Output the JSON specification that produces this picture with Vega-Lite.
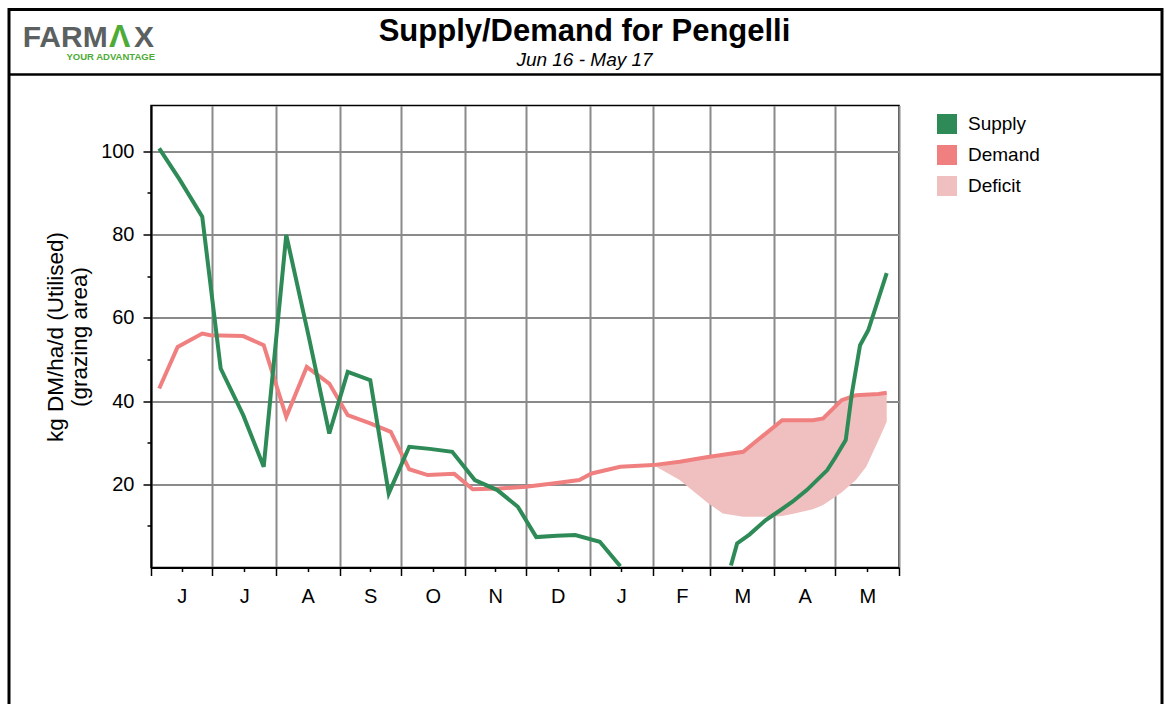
{
  "$schema": "https://vega.github.io/schema/vega-lite/v6.json",
  "width": 748,
  "height": 462,
  "autosize": {"type": "none"},
  "padding": {"left": 151, "top": 105.5, "right": 267, "bottom": 136.5},
  "background": "white",
  "config": {
    "font": "Liberation Sans",
    "view": {"stroke": "#000", "strokeWidth": 1.5},
    "legend": {"padding": 0}
  },
  "title": {
    "text": "Supply/Demand for Pengelli",
    "subtitle": "Jun 16 - May 17",
    "anchor": "middle",
    "frame": "group",
    "dx": 59.5,
    "offset": -62.5,
    "font": "Liberation Sans",
    "fontSize": 31,
    "fontWeight": "bold",
    "color": "#000",
    "subtitleFont": "Liberation Sans",
    "subtitleFontSize": 19,
    "subtitleFontStyle": "italic",
    "subtitleColor": "#000",
    "subtitlePadding": 3
  },
  "datasets": {
    "supply": [
      {"date": "2016-06-05", "kg": 100.7, "series": "Supply", "seg": 1},
      {"date": "2016-06-15", "kg": 93.2, "series": "Supply", "seg": 1},
      {"date": "2016-06-26", "kg": 84.3, "series": "Supply", "seg": 1},
      {"date": "2016-07-05", "kg": 47.8, "series": "Supply", "seg": 1},
      {"date": "2016-07-16", "kg": 36.6, "series": "Supply", "seg": 1},
      {"date": "2016-07-26", "kg": 24.2, "series": "Supply", "seg": 1},
      {"date": "2016-08-06", "kg": 79.9, "series": "Supply", "seg": 1},
      {"date": "2016-08-17", "kg": 55.4, "series": "Supply", "seg": 1},
      {"date": "2016-08-27", "kg": 32.2, "series": "Supply", "seg": 1},
      {"date": "2016-09-05", "kg": 47.0, "series": "Supply", "seg": 1},
      {"date": "2016-09-16", "kg": 45.0, "series": "Supply", "seg": 1},
      {"date": "2016-09-25", "kg": 17.8, "series": "Supply", "seg": 1},
      {"date": "2016-10-05", "kg": 29.0, "series": "Supply", "seg": 1},
      {"date": "2016-10-15", "kg": 28.5, "series": "Supply", "seg": 1},
      {"date": "2016-10-26", "kg": 27.8, "series": "Supply", "seg": 1},
      {"date": "2016-11-06", "kg": 21.0, "series": "Supply", "seg": 1},
      {"date": "2016-11-17", "kg": 18.6, "series": "Supply", "seg": 1},
      {"date": "2016-11-27", "kg": 14.6, "series": "Supply", "seg": 1},
      {"date": "2016-12-06", "kg": 7.3, "series": "Supply", "seg": 1},
      {"date": "2016-12-16", "kg": 7.6, "series": "Supply", "seg": 1},
      {"date": "2016-12-25", "kg": 7.8, "series": "Supply", "seg": 1},
      {"date": "2017-01-06", "kg": 6.2, "series": "Supply", "seg": 1},
      {"date": "2017-01-16", "kg": 0.3, "series": "Supply", "seg": 1},
      {"date": "2017-03-11", "kg": 0.5, "series": "Supply", "seg": 2},
      {"date": "2017-03-14", "kg": 5.8, "series": "Supply", "seg": 2},
      {"date": "2017-03-20", "kg": 7.9, "series": "Supply", "seg": 2},
      {"date": "2017-03-28", "kg": 11.4, "series": "Supply", "seg": 2},
      {"date": "2017-04-03", "kg": 13.4, "series": "Supply", "seg": 2},
      {"date": "2017-04-10", "kg": 15.8, "series": "Supply", "seg": 2},
      {"date": "2017-04-17", "kg": 18.6, "series": "Supply", "seg": 2},
      {"date": "2017-04-27", "kg": 23.4, "series": "Supply", "seg": 2},
      {"date": "2017-05-01", "kg": 26.5, "series": "Supply", "seg": 2},
      {"date": "2017-05-06", "kg": 30.6, "series": "Supply", "seg": 2},
      {"date": "2017-05-09", "kg": 41.8, "series": "Supply", "seg": 2},
      {"date": "2017-05-13", "kg": 53.4, "series": "Supply", "seg": 2},
      {"date": "2017-05-17", "kg": 57.0, "series": "Supply", "seg": 2},
      {"date": "2017-05-26", "kg": 70.7, "series": "Supply", "seg": 2}
    ],
    "demand": [
      {"date": "2016-06-05", "kg": 43.0, "series": "Demand"},
      {"date": "2016-06-14", "kg": 53.0, "series": "Demand"},
      {"date": "2016-06-26", "kg": 56.2, "series": "Demand"},
      {"date": "2016-06-30", "kg": 55.8, "series": "Demand"},
      {"date": "2016-07-16", "kg": 55.6, "series": "Demand"},
      {"date": "2016-07-26", "kg": 53.4, "series": "Demand"},
      {"date": "2016-08-06", "kg": 36.2, "series": "Demand"},
      {"date": "2016-08-16", "kg": 48.2, "series": "Demand"},
      {"date": "2016-08-27", "kg": 44.2, "series": "Demand"},
      {"date": "2016-09-05", "kg": 36.6, "series": "Demand"},
      {"date": "2016-09-16", "kg": 34.6, "series": "Demand"},
      {"date": "2016-09-26", "kg": 32.6, "series": "Demand"},
      {"date": "2016-10-05", "kg": 23.6, "series": "Demand"},
      {"date": "2016-10-14", "kg": 22.2, "series": "Demand"},
      {"date": "2016-10-27", "kg": 22.5, "series": "Demand"},
      {"date": "2016-11-05", "kg": 18.8, "series": "Demand"},
      {"date": "2016-11-18", "kg": 19.0, "series": "Demand"},
      {"date": "2016-12-01", "kg": 19.4, "series": "Demand"},
      {"date": "2016-12-14", "kg": 20.2, "series": "Demand"},
      {"date": "2016-12-27", "kg": 21.0, "series": "Demand"},
      {"date": "2017-01-02", "kg": 22.6, "series": "Demand"},
      {"date": "2017-01-16", "kg": 24.2, "series": "Demand"},
      {"date": "2017-02-01", "kg": 24.6, "series": "Demand"},
      {"date": "2017-02-14", "kg": 25.4, "series": "Demand"},
      {"date": "2017-02-27", "kg": 26.5, "series": "Demand"},
      {"date": "2017-03-17", "kg": 27.8, "series": "Demand"},
      {"date": "2017-03-23", "kg": 30.2, "series": "Demand"},
      {"date": "2017-04-05", "kg": 35.4, "series": "Demand"},
      {"date": "2017-04-20", "kg": 35.4, "series": "Demand"},
      {"date": "2017-04-25", "kg": 35.8, "series": "Demand"},
      {"date": "2017-05-04", "kg": 40.2, "series": "Demand"},
      {"date": "2017-05-11", "kg": 41.4, "series": "Demand"},
      {"date": "2017-05-22", "kg": 41.7, "series": "Demand"},
      {"date": "2017-05-26", "kg": 42.0, "series": "Demand"}
    ],
    "deficit": [
      {"date": "2017-02-01", "top": 24.6, "low": 24.6, "series": "Deficit"},
      {"date": "2017-02-14", "top": 25.4, "low": 21.0, "series": "Deficit"},
      {"date": "2017-02-28", "top": 26.6, "low": 15.4, "series": "Deficit"},
      {"date": "2017-03-07", "top": 27.1, "low": 13.0, "series": "Deficit"},
      {"date": "2017-03-17", "top": 27.8, "low": 12.2, "series": "Deficit"},
      {"date": "2017-03-23", "top": 30.2, "low": 12.2, "series": "Deficit"},
      {"date": "2017-03-31", "top": 33.3, "low": 12.2, "series": "Deficit"},
      {"date": "2017-04-05", "top": 35.4, "low": 12.4, "series": "Deficit"},
      {"date": "2017-04-11", "top": 35.4, "low": 13.0, "series": "Deficit"},
      {"date": "2017-04-20", "top": 35.4, "low": 14.0, "series": "Deficit"},
      {"date": "2017-04-25", "top": 35.8, "low": 15.0, "series": "Deficit"},
      {"date": "2017-05-04", "top": 40.2, "low": 18.0, "series": "Deficit"},
      {"date": "2017-05-11", "top": 41.4, "low": 21.0, "series": "Deficit"},
      {"date": "2017-05-16", "top": 41.5, "low": 24.2, "series": "Deficit"},
      {"date": "2017-05-22", "top": 41.7, "low": 30.6, "series": "Deficit"},
      {"date": "2017-05-26", "top": 42.0, "low": 35.0, "series": "Deficit"}
    ],
    "deco": [{"id": 1}]
  },
  "layer": [
    {
      "encoding": {
        "x": {
          "field": "date",
          "type": "temporal",
          "scale": {
            "type": "utc",
            "domain": [
              {"year": 2016, "month": 6, "date": 1, "utc": true},
              {"year": 2017, "month": 6, "date": 1, "utc": true}
            ]
          },
          "axis": {
            "title": null,
            "values": [
              {"year": 2016, "month": 6, "date": 1, "utc": true},
              {"year": 2016, "month": 6, "date": 16, "utc": true},
              {"year": 2016, "month": 7, "date": 1, "utc": true},
              {"year": 2016, "month": 7, "date": 16, "hours": 12, "utc": true},
              {"year": 2016, "month": 8, "date": 1, "utc": true},
              {"year": 2016, "month": 8, "date": 16, "hours": 12, "utc": true},
              {"year": 2016, "month": 9, "date": 1, "utc": true},
              {"year": 2016, "month": 9, "date": 16, "utc": true},
              {"year": 2016, "month": 10, "date": 1, "utc": true},
              {"year": 2016, "month": 10, "date": 16, "hours": 12, "utc": true},
              {"year": 2016, "month": 11, "date": 1, "utc": true},
              {"year": 2016, "month": 11, "date": 16, "utc": true},
              {"year": 2016, "month": 12, "date": 1, "utc": true},
              {"year": 2016, "month": 12, "date": 16, "hours": 12, "utc": true},
              {"year": 2017, "month": 1, "date": 1, "utc": true},
              {"year": 2017, "month": 1, "date": 16, "hours": 12, "utc": true},
              {"year": 2017, "month": 2, "date": 1, "utc": true},
              {"year": 2017, "month": 2, "date": 15, "utc": true},
              {"year": 2017, "month": 3, "date": 1, "utc": true},
              {"year": 2017, "month": 3, "date": 16, "hours": 12, "utc": true},
              {"year": 2017, "month": 4, "date": 1, "utc": true},
              {"year": 2017, "month": 4, "date": 16, "utc": true},
              {"year": 2017, "month": 5, "date": 1, "utc": true},
              {"year": 2017, "month": 5, "date": 16, "hours": 12, "utc": true},
              {"year": 2017, "month": 6, "date": 1, "utc": true}
            ],
            "labelExpr": "utcdate(datum.value) === 1 ? '' : substring(utcFormat(datum.value, '%b'), 0, 1)",
            "labelFontSize": 20,
            "labelColor": "#000",
            "labelPadding": 15,
            "labelFlush": false,
            "labelOverlap": false,
            "domainColor": "#000",
            "domainWidth": 2,
            "tickColor": "#000",
            "tickWidth": 1.5,
            "tickSize": {"condition": {"test": "utcdate(datum.value) === 1", "value": 8}, "value": 4},
            "grid": true,
            "gridColor": "#8a8a8a",
            "gridWidth": 2,
            "gridOpacity": {"condition": {"test": "utcdate(datum.value) === 1", "value": 1}, "value": 0}
          }
        },
        "y": {
          "type": "quantitative",
          "scale": {"domain": [0, 111], "nice": false, "zero": true},
          "axis": {
            "title": ["kg DM/ha/d (Utilised)", "(grazing area)"],
            "titleFontSize": 22.5,
            "titleFontWeight": "normal",
            "titleColor": "#000",
            "titleFont": "Liberation Sans",
            "titlePadding": 9,
            "titleLineHeight": 24,
            "values": [10, 20, 30, 40, 50, 60, 70, 80, 90, 100],
            "labelExpr": "datum.value % 20 === 0 ? datum.label : ''",
            "labelFontSize": 20,
            "labelColor": "#000",
            "labelPadding": 9,
            "domainColor": "#000",
            "domainWidth": 2,
            "tickColor": "#000",
            "tickWidth": 1.5,
            "tickSize": {"condition": {"test": "datum.value % 20 === 0", "value": 8}, "value": 4},
            "grid": true,
            "gridColor": "#8a8a8a",
            "gridWidth": 2,
            "gridOpacity": {"condition": {"test": "datum.value % 20 === 0", "value": 1}, "value": 0}
          }
        },
        "color": {
          "field": "series",
          "type": "nominal",
          "scale": {"domain": ["Supply", "Demand", "Deficit"], "range": ["#2e8b57", "#f08080", "#f0c0c0"]},
          "legend": {
            "title": null,
            "orient": "none",
            "legendX": 786,
            "legendY": 8.5,
            "symbolType": "square",
            "symbolSize": 400,
            "symbolStrokeWidth": 0,
            "symbolOpacity": 1,
            "labelFontSize": 19,
            "labelFont": "Liberation Sans",
            "labelColor": "#000",
            "labelOffset": 11,
            "rowPadding": 11,
            "encode": {"symbols": {"update": {"fill": {"scale": "color", "field": "value"}, "fillOpacity": {"value": 1}, "stroke": {"value": "transparent"}}}}
          }
        }
      },
      "layer": [
        {
          "data": {"name": "deficit"},
          "mark": {"type": "area", "opacity": 1},
          "encoding": {
            "y": {"field": "top", "type": "quantitative"},
            "y2": {"field": "low"}
          }
        },
        {
          "data": {"name": "demand"},
          "mark": {"type": "line", "strokeWidth": 4},
          "encoding": {
            "y": {"field": "kg", "type": "quantitative"}
          }
        },
        {
          "data": {"name": "supply"},
          "mark": {"type": "line", "strokeWidth": 4},
          "encoding": {
            "y": {"field": "kg", "type": "quantitative"},
            "detail": {"field": "seg", "type": "nominal"}
          }
        }
      ]
    },
    {
      "data": {"name": "deco"},
      "mark": {"type": "rect", "fillOpacity": 0, "stroke": "#000", "strokeWidth": 3, "clip": false},
      "encoding": {
        "x": {"value": -142},
        "x2": {"value": 1011},
        "y": {"value": -96},
        "y2": {"value": 620}
      }
    },
    {
      "data": {"name": "deco"},
      "mark": {"type": "rule", "stroke": "#000", "strokeWidth": 2.5, "clip": false},
      "encoding": {
        "x": {"value": -142},
        "x2": {"value": 1011},
        "y": {"value": -31}
      }
    },
    {
      "data": {"name": "deco"},
      "mark": {"type": "text", "text": "FARM", "font": "Liberation Sans", "fontSize": 30, "fontWeight": "bold", "color": "#5b6060", "align": "left", "baseline": "alphabetic"},
      "encoding": {"x": {"value": -128.3}, "y": {"value": -58.5}}
    },
    {
      "data": {"name": "deco"},
      "mark": {"type": "text", "text": "Λ", "font": "Liberation Sans", "fontSize": 32, "fontWeight": "bold", "color": "#4dab36", "align": "left", "baseline": "alphabetic"},
      "encoding": {"x": {"value": -42}, "y": {"value": -58.5}}
    },
    {
      "data": {"name": "deco"},
      "mark": {"type": "text", "text": "X", "font": "Liberation Sans", "fontSize": 30, "fontWeight": "bold", "color": "#5b6060", "align": "left", "baseline": "alphabetic"},
      "encoding": {"x": {"value": -17}, "y": {"value": -58.5}}
    },
    {
      "data": {"name": "deco"},
      "mark": {"type": "text", "text": "YOUR ADVANTAGE", "font": "Liberation Sans", "fontSize": 9.5, "fontWeight": "bold", "color": "#4dab36", "align": "right", "baseline": "alphabetic"},
      "encoding": {"x": {"value": 4}, "y": {"value": -46}}
    }
  ]
}
